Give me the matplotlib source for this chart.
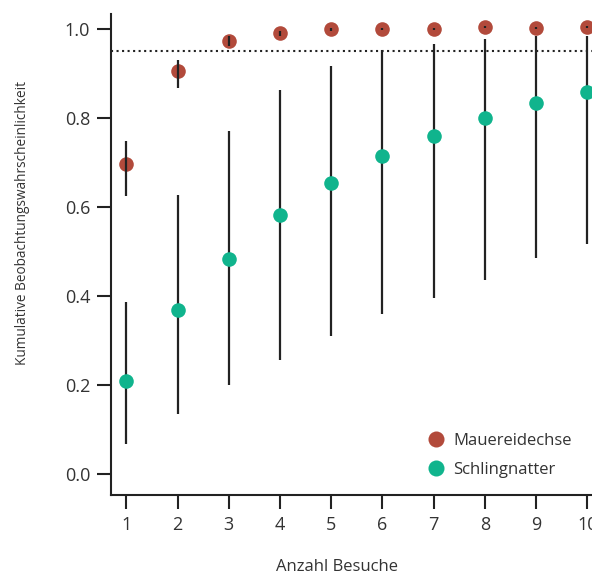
import numpy as np
import matplotlib
matplotlib.use("Agg")
import matplotlib.pyplot as plt

plt.rcParams['font.family'] = ['Open Sans', 'DejaVu Sans']

# Daten
besuche = np.arange(1, 11)

mauer_p = [0.698, 0.906, 0.973, 0.991, 1.000, 1.000, 1.000, 1.005, 1.003, 1.005]
mauer_lo = [0.625, 0.867, 0.962, 0.984, 0.997, 0.998, 0.998, 1.003, 1.001, 1.003]
mauer_hi = [0.749, 0.930, 0.985, 0.995, 1.003, 1.002, 1.002, 1.007, 1.005, 1.007]

schling_p = [0.210, 0.369, 0.483, 0.583, 0.655, 0.715, 0.760, 0.800, 0.834, 0.858]
schling_lo = [0.067, 0.136, 0.201, 0.257, 0.310, 0.359, 0.395, 0.437, 0.486, 0.517]
schling_hi = [0.387, 0.627, 0.771, 0.864, 0.917, 0.953, 0.966, 0.978, 0.985, 0.985]

schwelle = 0.95

rot = '#B24A3B'
gruen = '#10B48D'

fig = plt.figure(figsize=(5.92, 5.76), dpi=100)
ax = fig.add_axes([0.1875, 0.1406, 0.8306, 0.835])

ax.axhline(schwelle, color='#222222', linestyle=':', linewidth=1.5, zorder=1)

ax.vlines(besuche, schling_lo, schling_hi, color='#222222', linewidth=1.6, zorder=2)
ax.plot(besuche, schling_p, 'o', color=gruen, markersize=10.5, markeredgewidth=0,
        label='Schlingnatter', zorder=3)

ax.plot(besuche, mauer_p, 'o', color=rot, markersize=10.5, markeredgewidth=0,
        label='Mauereidechse', zorder=3)
ax.vlines(besuche, mauer_lo, mauer_hi, color='#222222', linewidth=1.6, zorder=4)

ax.set_xlim(0.7, 10.3)
ax.set_ylim(-0.047, 1.034)
ax.set_xticks(besuche)
ax.set_yticks([0.0, 0.2, 0.4, 0.6, 0.8, 1.0])
ax.set_yticklabels(['0.0', '0.2', '0.4', '0.6', '0.8', '1.0'])

for s in ['top', 'right']:
    ax.spines[s].set_visible(False)
for s in ['left', 'bottom']:
    ax.spines[s].set_linewidth(1.5)
    ax.spines[s].set_color('#222222')
ax.tick_params(length=10, width=1.5, color='#222222', labelsize=13,
               labelcolor='#333333', pad=5)

ax.set_xlabel('Anzahl Besuche', fontsize=12, color='#333333')
ax.xaxis.set_label_coords((337 - 111) / 491.7, -0.134)
ax.set_ylabel('Kumulative Beobachtungswahrscheinlichkeit', fontsize=9.8, color='#333333')
ax.yaxis.set_label_coords(-0.165, 0.565)

handles, labels = ax.get_legend_handles_labels()
leg = ax.legend(handles[::-1], labels[::-1], frameon=False, fontsize=12,
                loc='upper left', bbox_to_anchor=(408 / 592, 1 - 418 / 576),
                bbox_transform=fig.transFigure, handletextpad=0.3,
                labelspacing=0.75, handlelength=1.5, markerscale=1.1)
for t in leg.get_texts():
    t.set_color('#333333')

fig.savefig('out.png', dpi=100)
